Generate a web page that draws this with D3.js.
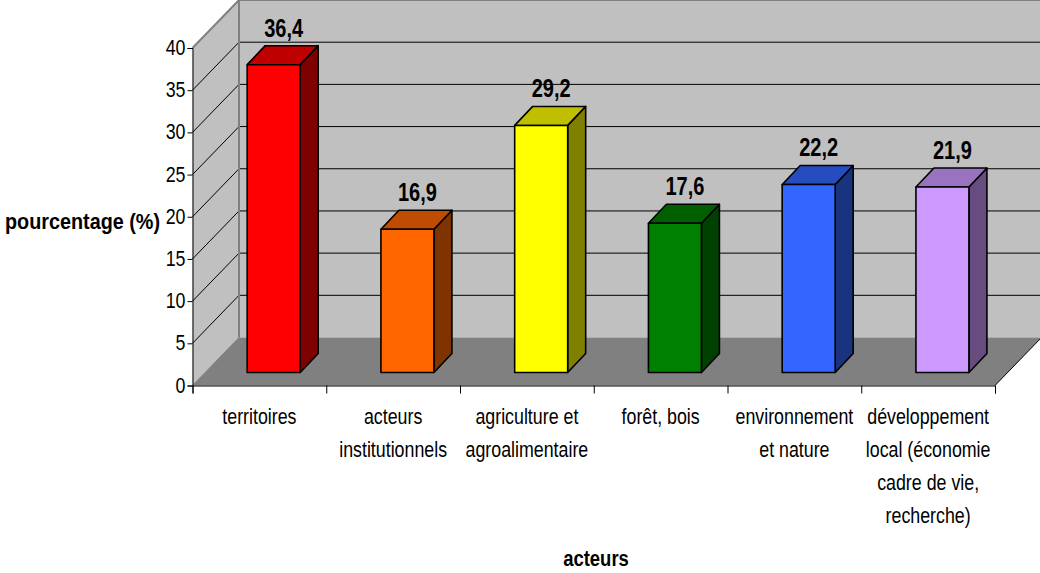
<!DOCTYPE html>
<html>
<head>
<meta charset="utf-8">
<script src="https://cdn.jsdelivr.net/npm/d3@7"></script>
<style>
  body { margin: 0; background: #fff; }
  text { font-family: "Liberation Sans", Arial, sans-serif; fill: #000; }
</style>
</head>
<body>
<div class="viz"></div>
<script>
const categories = [
  ['territoires'],
  ['acteurs', 'institutionnels'],
  ['agriculture et', 'agroalimentaire'],
  ['forêt, bois'],
  ['environnement', 'et nature'],
  ['développement', 'local (économie', 'cadre de vie,', 'recherche)']
]
const values = [36.4, 16.9, 29.2, 17.6, 22.2, 21.9]
const valueLabels = ['36,4', '16,9', '29,2', '17,6', '22,2', '21,9']
const frontColors = ['#ff0000', '#ff6600', '#ffff00', '#008000', '#3366ff', '#cc99ff']
const topColors = ['#bf0000', '#bf4c00', '#bfbf00', '#006000', '#264cbf', '#9973bf']
const sideColors = ['#7f0000', '#7f3300', '#7f7f00', '#004000', '#19337f', '#664c7f']
const yTicks = [0, 5, 10, 15, 20, 25, 30, 35, 40]

// 3d box: front plane of the axes, and the shift to the back wall
const width = 1040, height = 573
const x0 = 192.5, x1 = 995, yBase = 385.5, yTop = 48
const depthX = 46.5, depthY = 48
const barOffsetX = 14.3, barOffsetY = 13, barDepthX = 18, barDepthY = 19

const svg = d3.select('.viz').append('svg')
  .attr('width', width).attr('height', height)
  .style('display', 'block')

const y = d3.scaleLinear().domain([0, 40]).range([yBase, yTop])
const x = d3.scaleBand().domain(d3.range(categories.length)).range([x0, x1])
const pts = p => p.map(d => d.join(',')).join(' ')
// the original type is squeezed sideways, no narrow font here so scale it
const squeeze = (tx, ty, k) => `translate(${tx},${ty}) scale(${k},1)`

// walls and floor
svg.append('polygon')
  .attr('points', pts([[x0 + depthX, y(40) - depthY], [width, y(40) - depthY], [width, y(0) - depthY], [x0 + depthX, y(0) - depthY]]))
  .attr('fill', '#c0c0c0')
svg.append('polygon')
  .attr('points', pts([[x0, y(40)], [x0 + depthX, y(40) - depthY], [x0 + depthX, y(0) - depthY], [x0, y(0)]]))
  .attr('fill', '#c0c0c0')
svg.append('polygon')
  .attr('points', pts([[x0, y(0)], [x1, y(0)], [x1 + depthX, y(0) - depthY], [x0 + depthX, y(0) - depthY]]))
  .attr('fill', '#808080')

// gridlines run along the side wall then the back wall
svg.selectAll('.grid')
  .data(yTicks.filter(d => d > 0 && d < 40)).enter().append('polyline')
  .attr('points', d => pts([[x0, y(d)], [x0 + depthX, y(d) - depthY], [width, y(d) - depthY]]))
  .attr('fill', 'none').attr('stroke', '#000').attr('stroke-width', 1)

// grey wall edges
svg.append('polyline')
  .attr('points', pts([[x0, y(40)], [x0 + depthX, y(40) - depthY], [width, y(40) - depthY]]))
  .attr('fill', 'none').attr('stroke', '#808080').attr('stroke-width', 2)
svg.append('line')
  .attr('x1', x0 + depthX).attr('x2', x0 + depthX)
  .attr('y1', y(40) - depthY).attr('y2', y(0) - depthY)
  .attr('stroke', '#808080').attr('stroke-width', 2)
svg.append('line')
  .attr('x1', x0).attr('x2', x0 + depthX)
  .attr('y1', y(0)).attr('y2', y(0) - depthY)
  .attr('stroke', '#808080').attr('stroke-width', 1)
svg.append('line')
  .attr('x1', x1).attr('x2', x1 + depthX)
  .attr('y1', y(0)).attr('y2', y(0) - depthY)
  .attr('stroke', '#000').attr('stroke-width', 1)

// bars
const bars = svg.selectAll('.bar')
  .data(values).enter().append('g')
  .attr('class', 'bar')
  .attr('stroke', '#000').attr('stroke-width', 1.6).attr('stroke-linejoin', 'round')

const barW = 53
const left = i => x(i) + x.bandwidth() / 2 + barOffsetX - barW / 2
const base = yBase - barOffsetY
const topY = d => y(d) - barOffsetY - 0.7

bars.append('polygon')
  .attr('points', (d, i) => pts([[left(i) + barW, topY(d)], [left(i) + barW + barDepthX, topY(d) - barDepthY], [left(i) + barW + barDepthX, base - barDepthY], [left(i) + barW, base]]))
  .attr('fill', (d, i) => sideColors[i])
bars.append('polygon')
  .attr('points', (d, i) => pts([[left(i), topY(d)], [left(i) + barDepthX, topY(d) - barDepthY], [left(i) + barW + barDepthX, topY(d) - barDepthY], [left(i) + barW, topY(d)]]))
  .attr('fill', (d, i) => topColors[i])
bars.append('rect')
  .attr('x', (d, i) => left(i)).attr('y', d => topY(d))
  .attr('width', barW).attr('height', d => base - topY(d))
  .attr('fill', (d, i) => frontColors[i])

svg.selectAll('.value')
  .data(values).enter().append('text')
  .attr('class', 'value')
  .attr('transform', (d, i) => squeeze(left(i) + barW / 2 + 10, topY(d) - 28, 0.8))
  .attr('text-anchor', 'middle')
  .attr('font-size', 25).attr('font-weight', 'bold')
  .text((d, i) => valueLabels[i])

// axes
const yAxis = d3.axisLeft(y).tickValues(yTicks).tickSize(5).tickPadding(2)
const gy = svg.append('g').attr('transform', `translate(${x0},0)`).call(yAxis)
gy.attr('font-family', null).attr('font-size', null)
gy.selectAll('text')
  .attr('x', 0).attr('dy', '.3em')
  .attr('font-size', 22)
  .attr('transform', squeeze(-7, 0, 0.81))
gy.select('.domain').attr('stroke', '#000')

const xTickScale = d3.scaleLinear().domain([0, categories.length]).range([x0, x1])
const xAxis = d3.axisBottom(xTickScale).tickValues(d3.range(categories.length + 1)).tickSize(8).tickFormat('')
const gx = svg.append('g').attr('transform', `translate(0,${yBase})`).call(xAxis)
gx.select('.domain').attr('stroke', '#000')

const catLabels = svg.selectAll('.cat')
  .data(categories).enter().append('g')
  .attr('class', 'cat')
  .selectAll('text')
  .data((lines, i) => lines.map((l, j) => ({ l, j, i }))).enter().append('text')
  .attr('text-anchor', 'middle')
  .attr('font-size', 22)
  .attr('transform', d => squeeze(x(d.i) + x.bandwidth() / 2, 424 + d.j * 33, 0.81))
  .text(d => d.l)

svg.append('text')
  .attr('transform', squeeze(596, 566, 0.84))
  .attr('text-anchor', 'middle').attr('font-size', 22).attr('font-weight', 'bold')
  .text('acteurs')
svg.append('text')
  .attr('transform', squeeze(82.5, 229, 0.9))
  .attr('text-anchor', 'middle').attr('font-size', 22).attr('font-weight', 'bold')
  .text('pourcentage (%)')
</script>
</body>
</html>
